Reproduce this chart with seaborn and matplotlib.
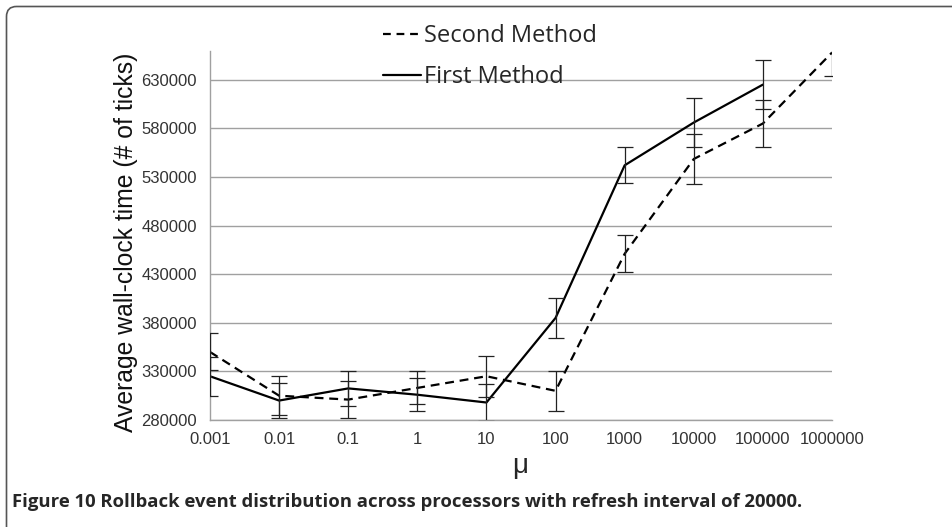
import numpy as np
import pandas as pd
import matplotlib
matplotlib.use("Agg")
import matplotlib.pyplot as plt
from matplotlib.patches import FancyBboxPatch
from matplotlib.lines import Line2D
import seaborn as sns

# Data
mu_labels = ["0.001", "0.01", "0.1", "1", "10", "100", "1000", "10000", "100000", "1000000"]
first_method = [325000, 300000, 312500, 306000, 298000, 385000, 542000, 586000, 625000, np.nan]
first_err = [20000, 18000, 18000, 17000, 19500, 21000, 18500, 25500, 25500, np.nan]
second_method = [350000, 305000, 301000, 313000, 325000, 310000, 451000, 548500, 585000, 658000]
second_err = [19000, 20000, 19000, 17000, 21000, 20500, 19000, 25800, 23700, 24000]
y_ticks = [280000, 330000, 380000, 430000, 480000, 530000, 580000, 630000]

pos = np.arange(len(mu_labels))
df = pd.concat([
    pd.DataFrame({"pos": pos, "value": first_method, "err": first_err, "Method": "First Method"}),
    pd.DataFrame({"pos": pos, "value": second_method, "err": second_err, "Method": "Second Method"}),
], ignore_index=True)

sns.set_style("white")
plt.rcParams["font.family"] = ["Liberation Sans", "DejaVu Sans"]

fig = plt.figure(figsize=(9.52, 5.27), dpi=100)
ax = fig.add_axes([210 / 952, 1 - 420 / 527, 622 / 952, 369.4 / 527])

dashes = {"First Method": "", "Second Method": (4, 2.6)}
sns.lineplot(data=df, x="pos", y="value", style="Method", dashes=dashes,
             color="black", linewidth=1.6, errorbar=None, ax=ax, legend=False)

for method, grp in df.groupby("Method"):
    ax.errorbar(grp["pos"], grp["value"], yerr=grp["err"], fmt="none",
                ecolor="#222222", elinewidth=0.9, capsize=5.5, capthick=0.9, zorder=3)

ax.set_xlim(0, len(mu_labels) - 1)
ax.set_ylim(280000, 660000)
ax.set_xticks(pos)
ax.set_xticklabels(mu_labels, fontsize=12, color="#333333")
ax.set_yticks(y_ticks)
ax.set_yticklabels([str(t) for t in y_ticks], fontsize=12, color="#333333")
ax.tick_params(axis="both", length=0)
ax.tick_params(axis="x", pad=9)
ax.tick_params(axis="y", pad=9.5)
ax.grid(axis="y", color="#a0a0a0", linewidth=1)
ax.grid(axis="x", visible=False)
for side in ["top", "right"]:
    ax.spines[side].set_visible(False)
for side in ["left", "bottom"]:
    ax.spines[side].set_color("#a0a0a0")
    ax.spines[side].set_linewidth(1)

ax.set_xlabel("")
ax.set_ylabel("Average wall-clock time (# of ticks)", fontsize=17.8, color="#111111")
ax.yaxis.set_label_coords(-0.115, 0.48)
fig.text(520 / 952, 1 - 466 / 527, "μ", fontsize=20, ha="center", va="center")

handles = [Line2D([], [], color="black", linewidth=1.6, linestyle=(0, (3.5, 2.6))),
           Line2D([], [], color="black", linewidth=1.6)]
leg = ax.legend(handles, ["Second Method", "First Method"], loc="upper left",
                bbox_to_anchor=(383 / 952, 1 - 24 / 527), bbox_transform=fig.transFigure,
                frameon=False, borderpad=0, borderaxespad=0, handlelength=1.6,
                handletextpad=0.15, labelspacing=0.72,
                prop={"family": "Open Sans", "size": 17})

fig.text(12 / 952, 1 - 502 / 527,
         "Figure 10 Rollback event distribution across processors with refresh interval of 20000.",
         fontsize=13.3, fontweight="bold", fontfamily="Open Sans", ha="left", va="center")

frame = FancyBboxPatch((6.5, -20), 980, 527 - 6.5 + 20, boxstyle="round,pad=0,rounding_size=10",
                       transform=None, facecolor="none", edgecolor="#555555", linewidth=1.2)
fig.patches.append(frame)

plt.savefig("out.png", dpi=100)
